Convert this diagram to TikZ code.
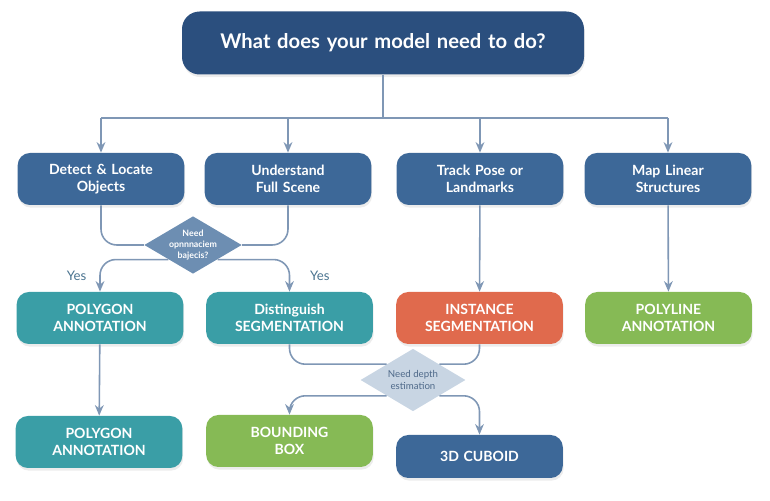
\documentclass[tikz,border=0pt]{standalone}
\usepackage{fontspec}
\setmainfont{Lato}
\usetikzlibrary{arrows.meta, shapes.geometric, shadows}
\definecolor{cNavy}{HTML}{2B4F7E}
\definecolor{cBlue}{HTML}{3D6898}
\definecolor{cTeal}{HTML}{3A9EA6}
\definecolor{cOrange}{HTML}{E06A4D}
\definecolor{cGreen}{HTML}{86BA55}
\definecolor{cLine}{HTML}{7F97B5}
\definecolor{cPale}{HTML}{C8D5E3}
\definecolor{cSlate}{HTML}{4F6A8A}
\tikzstyle{fBox} = [rectangle, rounded corners=7pt, minimum width=3.26cm, minimum height=1.04cm, text centered, text width=3.1cm, text=white, font=\bfseries\fontsize{8}{10}\selectfont, drop shadow={opacity=0.15, shadow xshift=0.5pt, shadow yshift=-1.5pt}]
\tikzstyle{fDecision} = [diamond, aspect=1.7, inner sep=0pt, align=center, font=\bfseries\fontsize{5}{6}\selectfont]
\tikzstyle{fArrow} = [cLine, line width=0.9pt, rounded corners=9pt, -{Stealth[length=6pt, width=5pt]}]
\tikzstyle{fLine} = [cLine, line width=0.9pt, rounded corners=9pt]

\begin{document}
\begin{tikzpicture}
    \useasboundingbox (0,0) rectangle (15.4,-10.02);
    \node (goal) [fBox, fill=cNavy, minimum width=8.04cm, minimum height=1.26cm, text width=7.8cm, rounded corners=10pt, font=\bfseries\fontsize{11.5}{13}\selectfont] at (7.66,-0.86) {What does your model need to do?};

    \node (detect) [fBox, fill=cBlue] at (2.02,-3.58) {Detect \& Locate\\Objects};
    \node (scene) [fBox, fill=cBlue] at (5.76,-3.58) {Understand\\Full Scene};
    \node (pose) [fBox, fill=cBlue] at (9.60,-3.58) {Track Pose or\\Landmarks};
    \node (linear) [fBox, fill=cBlue] at (13.36,-3.58) {Map Linear\\Structures};

    \node (askObj) [fDecision, fill=cBlue!75!white, text=white, minimum width=1.8cm, minimum height=1.15cm] at (3.86,-4.9) {Need\\opnnnaciem\\bajecis?};

    \node (polygon) [fBox, fill=cTeal] at (2.00,-6.36) {POLYGON\\ANNOTATION};
    \node (distinguish) [fBox, fill=cTeal] at (5.79,-6.36) {Distinguish\\SEGMENTATION};
    \node (instance) [fBox, fill=cOrange] at (9.59,-6.36) {INSTANCE\\SEGMENTATION};
    \node (polyline) [fBox, fill=cGreen] at (13.37,-6.36) {POLYLINE\\ANNOTATION};

    \node (askDepth) [fDecision, fill=cPale, text=cSlate, minimum width=2.1cm, minimum height=1.25cm, font=\fontsize{5.5}{7}\selectfont] at (8.26,-7.6) {Need depth\\estimation};

    \node (polygonB) [fBox, fill=cTeal] at (1.98,-8.84) {POLYGON\\ANNOTATION};
    \node (bbox) [fBox, fill=cGreen] at (5.79,-8.82) {BOUNDING\\BOX};
    \node (cuboid) [fBox, fill=cBlue, minimum height=0.86cm] at (9.59,-9.13) {3D CUBOID};

    \coordinate (bus) at (7.66,-2.36);
    \draw [fLine] (goal) -- (bus);
    \draw [fLine] (detect.north |- bus) -- (linear.north |- bus);
    \foreach \n in {detect, scene, pose, linear}
        \draw [fArrow] (\n.north |- bus) -- (\n);

    \draw [fLine] (detect.south) |- (askObj.west);
    \draw [fLine] (scene.south) |- (askObj.east);
    \draw [fArrow] (askObj.south west) -| node[pos=0.75, left=4pt, text=cSlate!80!cTeal, font=\fontsize{7.5}{9}\selectfont] {Yes} (polygon.north);
    \draw [fArrow] (askObj.south east) -| node[pos=0.75, right=8pt, text=cSlate!80!cTeal, font=\fontsize{7.5}{9}\selectfont] {Yes} (distinguish.north);

    \draw [fArrow] (pose) -- (instance);
    \draw [fArrow] (linear) -- (polyline);
    \draw [fArrow] (polygon) -- (polygonB);

    \draw [fLine] (distinguish.south) |- (askDepth.north west);
    \draw [fLine] (instance.south) |- (askDepth.north east);
    \draw [fArrow] (askDepth.south west) -| (bbox.north);
    \draw [fArrow] (askDepth.south east) -| (cuboid.north);
\end{tikzpicture}
\end{document}
